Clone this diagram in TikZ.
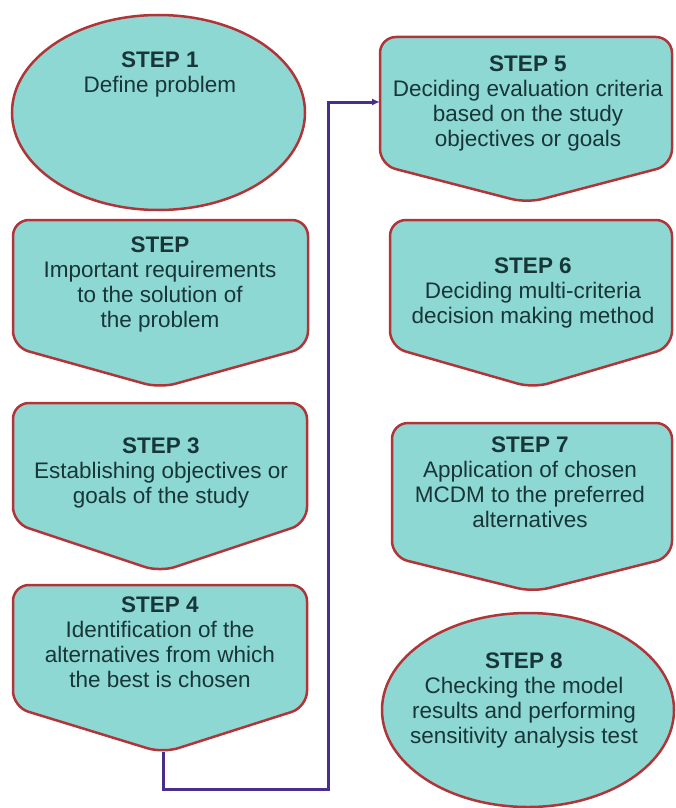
\documentclass[tikz,border=0pt]{standalone}
\usepackage{fontspec}
\setmainfont{Liberation Sans}
\usetikzlibrary{arrows.meta,shapes.geometric}
\definecolor{boxfill}{RGB}{142,216,212}
\definecolor{boxline}{RGB}{176,52,56}
\definecolor{txtcol}{RGB}{24,54,56}
\definecolor{conncol}{RGB}{74,46,140}
\newcommand\pentabox[6]{%
  \draw[shp] ({(#1+#2)/2},#3) -- (#2,#3) -- (#2,#4) -- (#5,#6) -- (#1,#4) -- (#1,#3) -- cycle;}
\tikzset{
  shp/.style={draw=boxline, fill=boxfill, line width=2.5pt, rounded corners=16pt, line join=round},
  ell/.style={ellipse, draw=boxline, fill=boxfill, line width=2.5pt, inner sep=0pt},
  txt/.style={align=center, inner sep=0pt, text=txtcol, font=\fontsize{22.5}{25}\selectfont},
  conn/.style={draw=conncol, line width=3pt},
}
\begin{document}
\begin{tikzpicture}[x=1pt,y=-1pt]
\fill[white] (0,0) rectangle (675,808);
\useasboundingbox (0,0) rectangle (675,808);
% left column
\node[ell, minimum width=293pt, minimum height=195pt] (e1) at (158.5,112.5) {};
\pentabox{13}{308}{220}{347}{160}{388}
\pentabox{13}{307}{403}{523}{160}{572}
\pentabox{13}{307}{585}{707}{163}{753}
% right column
\pentabox{380}{672}{37}{165}{527}{203}
\pentabox{390}{672}{220}{347}{533}{388}
\pentabox{392}{672}{423}{557}{533}{592}
\node[ell, minimum width=292pt, minimum height=194pt] (e8) at (528,710) {};
% texts
\node[txt] (t1) at (160,74) {\textbf{STEP 1}\\Define problem};
\node[txt] (t2) at (160,284) {\textbf{STEP}\\Important requirements\\to the solution of\\the problem};
\node[txt] (t3) at (161,473) {\textbf{STEP 3}\\Establishing objectives or\\goals of the study};
\node[txt] (t4) at (160,642) {\textbf{STEP 4}\\Identification of the\\alternatives from which\\the best is chosen};
\node[txt] (t5) at (528,103) {\textbf{STEP 5}\\Deciding evaluation criteria\\based on the study\\objectives or goals};
\node[txt] (t6) at (533,293) {\textbf{STEP 6}\\Deciding multi-criteria\\decision making method};
\node[txt] (t7) at (530,482) {\textbf{STEP 7}\\Application of chosen\\MCDM to the preferred\\alternatives};
\node[txt] (t8) at (524,700) {\textbf{STEP 8}\\Checking the model\\results and performing\\sensitivity analysis test};
% connector
\coordinate (s4tip) at (163,752);
\coordinate (j1) at (328,789);
\coordinate (s5in) at (380,102);
\draw[conn, -{Latex[length=8pt,width=7pt]}] (s4tip) |- (j1) |- (s5in);
\end{tikzpicture}
\end{document}
